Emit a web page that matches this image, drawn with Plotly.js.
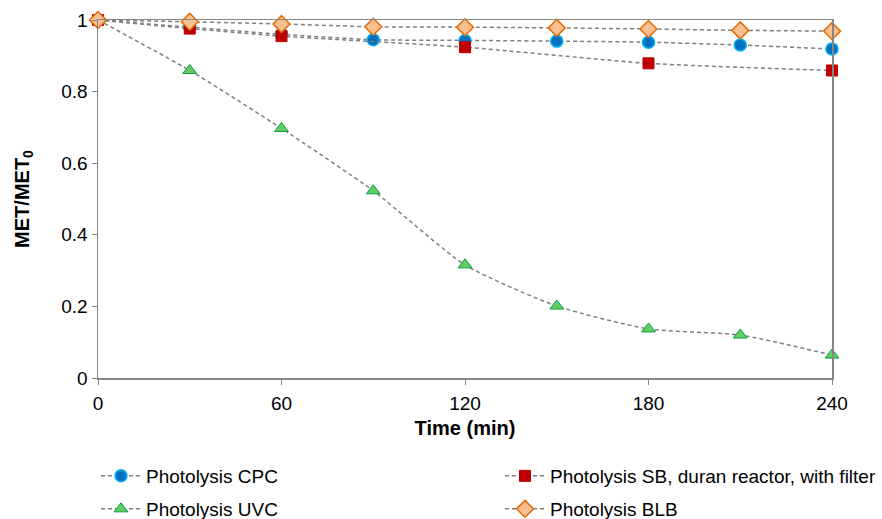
<!DOCTYPE html>
<html>
<head>
<meta charset="utf-8">
<script src="https://cdn.plot.ly/plotly-3.0.1.min.js"></script>
<style>html,body{margin:0;padding:0;background:#fff;}#chart{width:882px;height:519px;}</style>
</head>
<body>
<div id="chart"></div>
<script>
const timeCPC = [0, 30, 60, 90, 120, 150, 180, 210, 240];
const valCPC  = [1, 0.98, 0.96, 0.945, 0.943, 0.941, 0.938, 0.930, 0.919];
const timeSB  = [0, 30, 60, 120, 180, 240];
const valSB   = [1, 0.976, 0.955, 0.924, 0.879, 0.859];
const timeUVC = [0, 30, 60, 90, 120, 150, 180, 210, 240];
const valUVC  = [1, 0.859, 0.697, 0.523, 0.316, 0.201, 0.137, 0.120, 0.064];
const timeBLB = [0, 30, 60, 90, 120, 150, 180, 210, 240];
const valBLB  = [1, 0.995, 0.989, 0.981, 0.980, 0.978, 0.975, 0.971, 0.969];
const names = ['Photolysis CPC', 'Photolysis SB, duran reactor, with filter', 'Photolysis UVC', 'Photolysis BLB'];
const yTickVals = [0, 0.2, 0.4, 0.6, 0.8, 1];
const yTickText = ['0', '0.2', '0.4', '0.6', '0.8', '1'];
const xTickVals = [0, 60, 120, 180, 240];

const lineStyle = {color: '#808080', width: 1.5, dash: '4px,3px', shape: 'spline', smoothing: 0.6};
function tr(x, y, name, marker, legend) {
  return {x: x, y: y, name: name, type: 'scatter', mode: 'lines+markers', legend: legend,
          line: lineStyle, marker: marker, cliponaxis: false};
}
const data = [
  tr(timeCPC, valCPC, names[0], {symbol: 'circle', size: 12, color: '#0070C0', line: {color: '#00B0F0', width: 1.5}}, 'legend'),
  tr(timeSB, valSB, names[1], {symbol: 'square', size: 11, color: '#C00000', line: {color: '#C00000', width: 1}}, 'legend2'),
  tr(timeUVC, valUVC, names[2], {symbol: 'triangle-up', size: 12, color: '#66CC66', line: {color: '#00A040', width: 1}}, 'legend3'),
  tr(timeBLB, valBLB, names[3], {symbol: 'diamond', size: 13, color: '#FAC090', line: {color: '#E46C0A', width: 1.5}}, 'legend4')
];
const font = {family: 'Liberation Sans, Arial, sans-serif', color: '#000'};
function legendCfg(xl, yc) {
  return {
    orientation: 'h', xref: 'container', yref: 'container',
    x: xl / 882, xanchor: 'left', y: 1 - yc / 519, yanchor: 'middle', itemwidth: 40,
    font: Object.assign({size: 19}, font), bgcolor: 'rgba(0,0,0,0)'
  };
}
const layout = {
  width: 882, height: 519,
  margin: {l: 98, r: 50, t: 20, b: 141},
  paper_bgcolor: '#fff', plot_bgcolor: '#fff',
  font: Object.assign({size: 19}, font),
  showlegend: true,
  xaxis: {
    range: [0, 240], tickvals: xTickVals, ticks: 'outside', ticklen: 5, tickcolor: '#868686',
    showgrid: false, zeroline: false, showline: true, linecolor: '#868686', linewidth: 1.5, mirror: true,
    tickfont: Object.assign({size: 19}, font), automargin: false, ticklabelstandoff: 3,
    title: {text: '<b>Time (min)</b>', font: Object.assign({size: 20}, font), standoff: 7}
  },
  yaxis: {
    range: [0, 1], tickvals: yTickVals, ticktext: yTickText, ticks: 'outside', ticklen: 5, tickcolor: '#868686',
    showgrid: false, zeroline: false, showline: true, linecolor: '#868686', linewidth: 1.5, mirror: true,
    tickfont: Object.assign({size: 19}, font), automargin: false,
    title: {text: '<b>MET/MET<sub>0</sub></b>', font: Object.assign({size: 20}, font), standoff: 26}
  },
  legend: legendCfg(96, 476),
  legend2: legendCfg(500, 476),
  legend3: legendCfg(96, 509),
  legend4: legendCfg(500, 509)
};
Plotly.newPlot('chart', data, layout, {displayModeBar: false, staticPlot: true});
</script>
</body>
</html>
